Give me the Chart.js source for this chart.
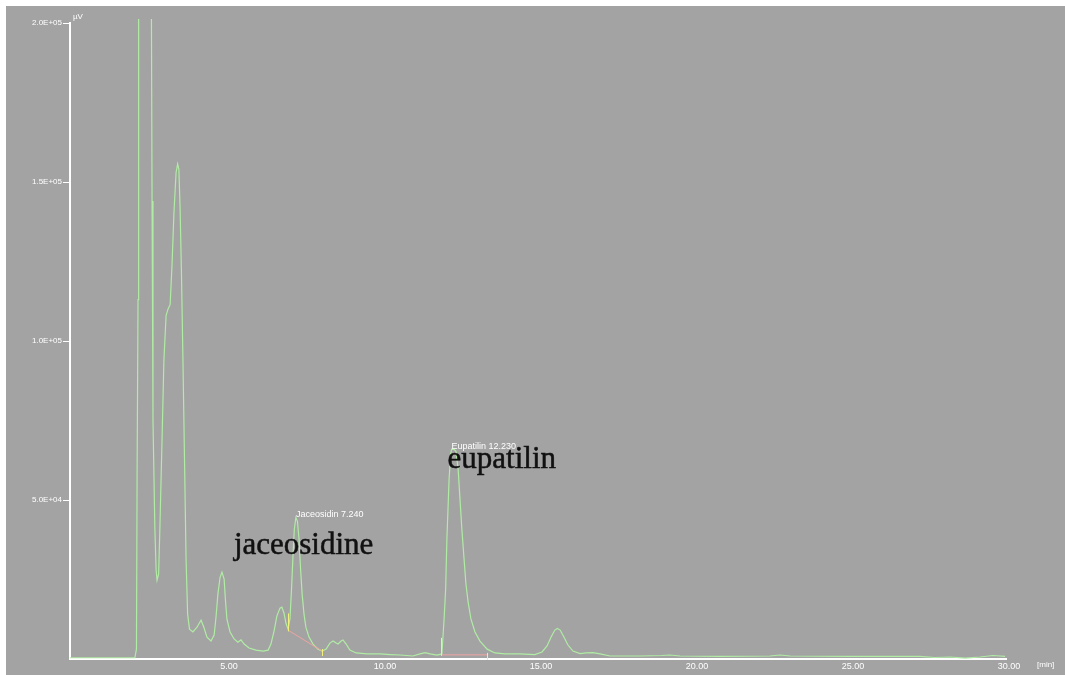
<!DOCTYPE html>
<html>
<head>
<meta charset="utf-8">
<title>HPLC chromatogram</title>
<script src="https://cdn.jsdelivr.net/npm/chart.js@4.4.1/dist/chart.umd.min.js"></script>
<style>
  html, body { margin: 0; padding: 0; background: #ffffff; }
  #wrap { position: relative; width: 1065px; height: 675px; }
</style>
</head>
<body>
<div id="wrap"><canvas id="chrom" width="1065" height="675"></canvas></div>
<script>
// Retention time (min) and detector signal (uV) of the chromatogram trace
const retentionTime = [
  0.00, 0.96, 2.08, 2.13, 2.15, 2.18, 2.20, 2.40, 2.60, 2.63,
  2.66, 2.72, 2.76, 2.79, 2.84, 2.88, 2.95, 3.01, 3.08, 3.14,
  3.21, 3.27, 3.33, 3.40, 3.45, 3.49, 3.53, 3.57, 3.62, 3.67,
  3.72, 3.77, 3.83, 3.94, 4.07, 4.20, 4.29, 4.39, 4.52, 4.62,
  4.68, 4.74, 4.81, 4.87, 4.94, 4.98, 5.03, 5.13, 5.26, 5.38,
  5.48, 5.58, 5.74, 5.96, 6.19, 6.35, 6.44, 6.54, 6.63, 6.73,
  6.79, 6.86, 6.92, 6.99, 7.05, 7.10, 7.15, 7.19, 7.24, 7.29,
  7.34, 7.39, 7.44, 7.50, 7.56, 7.66, 7.79, 7.95, 8.08, 8.21,
  8.33, 8.43, 8.53, 8.59, 8.69, 8.75, 8.85, 8.97, 9.17, 9.52,
  9.94, 10.26, 10.58, 10.99, 11.22, 11.38, 11.54, 11.76, 11.92, 11.99,
  12.04, 12.08, 12.15, 12.20, 12.23, 12.31, 12.37, 12.44, 12.50, 12.56,
  12.63, 12.69, 12.76, 12.85, 12.98, 13.14, 13.37, 13.62, 13.94, 14.42,
  14.90, 15.13, 15.29, 15.42, 15.54, 15.62, 15.71, 15.83, 15.96, 16.12,
  16.35, 16.54, 16.76, 16.99, 17.31, 18.27, 18.97, 19.23, 19.55, 20.83,
  22.44, 22.76, 23.08, 25.00, 27.24, 27.72, 28.21, 28.69, 29.17, 29.58,
  29.81, 29.97
];
const signal = [
  400, 400, 450, 3100, 56500, 113000, 230000, 420000, 230000, 144000,
  75000, 41000, 28000, 24800, 26700, 40800, 69000, 94000, 108000, 110000,
  111500, 124000, 140000, 153000, 155700, 154000, 141000, 122500, 94000, 63000,
  31400, 14100, 9400, 8500, 10000, 12200, 10000, 6900, 5650, 7500,
  13200, 20400, 25700, 27300, 25100, 18800, 12500, 8500, 6300, 5300,
  6000, 4700, 3450, 2800, 2500, 2800, 4700, 8800, 13500, 16000,
  16300, 14400, 11300, 9400, 12600, 22000, 33000, 40800, 44500, 43300,
  37700, 28300, 20400, 14100, 10000, 6900, 4700, 3100, 2500, 3100,
  5000, 5650, 5000, 4700, 5650, 6000, 4700, 2800, 1900, 1600,
  1600, 1400, 1250, 950, 1600, 2000, 1600, 1250, 1600, 12600,
  22000, 37700, 56500, 64400, 66000, 65900, 65300, 59700, 50200, 40800,
  31400, 23600, 17900, 12600, 8500, 5650, 3100, 1900, 1600, 1600,
  1400, 2200, 4100, 6900, 9100, 9600, 9100, 6900, 4400, 2500,
  1700, 1900, 2000, 1600, 950, 950, 1100, 1250, 950, 800,
  950, 1250, 950, 800, 800, 470, 630, 300, 630, 1100,
  950, 800
];

// Identified peaks: name, retention time, height
const peakNames = ['Jaceosidin', 'Eupatilin'];
const peakTimes = [7.240, 12.230];
const peakHeights = [44500, 66000];
const compoundLabels = ['jaceosidine', 'eupatilin'];

// Integration baselines (start / end time and signal) for each identified peak
const baseStartTime = [7.00, 11.90];
const baseStartSignal = [9000, 1300];
const baseEndTime = [8.08, 13.37];
const baseEndSignal = [2500, 1300];

// Axis ticks
const timeTicks = [0, 5, 10, 15, 20, 25, 30];
const signalTicks = [0, 50000, 100000, 150000, 200000];

const BG = '#a3a3a3';
const TRACE = '#b0eca4';
const BASELINE = '#f0a3a3';
const MARKER = '#f2f27a';

function sci(v) {
  const parts = v.toExponential(1).split('e');
  const e = parseInt(parts[1], 10);
  return parts[0] + 'E' + (e < 0 ? '-' : '+') + String(Math.abs(e)).padStart(2, '0');
}

const tracePoints = retentionTime.map((t, i) => ({ x: t, y: signal[i] }));
const baselineSets = peakNames.map((n, i) => ({
  label: n + ' baseline',
  data: [{ x: baseStartTime[i], y: baseStartSignal[i] }, { x: baseEndTime[i], y: baseEndSignal[i] }],
  showLine: true,
  borderColor: BASELINE,
  borderWidth: 1,
  pointRadius: 0,
  order: 1
}));

const decorations = {
  id: 'decorations',
  beforeDraw(chart) {
    const c = chart.ctx;
    c.save();
    c.fillStyle = '#ffffff';
    c.fillRect(0, 0, chart.width, chart.height);
    c.fillStyle = BG;
    c.fillRect(6, 6, chart.width - 6, chart.height - 6);
    c.restore();
  },
  afterDatasetsDraw(chart) {
    const c = chart.ctx;
    const xs = chart.scales.x, ys = chart.scales.y;
    c.save();
    // integration start / end markers
    c.strokeStyle = MARKER;
    c.lineWidth = 1;
    for (let i = 0; i < peakNames.length; i++) {
      const sx = Math.round(xs.getPixelForValue(baseStartTime[i])) + 0.5;
      const sy = ys.getPixelForValue(baseStartSignal[i]);
      c.beginPath(); c.moveTo(sx, sy + 1); c.lineTo(sx, sy - 17); c.stroke();
      const ex = Math.round(xs.getPixelForValue(baseEndTime[i])) + 0.5;
      const ey = ys.getPixelForValue(baseEndSignal[i]);
      c.beginPath(); c.moveTo(ex, ey - 2); c.lineTo(ex, ey + 5); c.stroke();
    }
    // peak annotations
    for (let i = 0; i < peakNames.length; i++) {
      const px = xs.getPixelForValue(peakTimes[i]);
      const py = ys.getPixelForValue(peakHeights[i]);
      c.fillStyle = '#ffffff';
      c.font = '9px "Liberation Sans", Arial, sans-serif';
      c.textAlign = 'left';
      c.textBaseline = 'alphabetic';
      c.fillText(peakNames[i] + ' ' + peakTimes[i].toFixed(3), px, py);
    }
    c.fillStyle = '#111111';
    c.strokeStyle = '#111111';
    c.lineWidth = 0.5;
    c.font = '31px "Liberation Serif", "Times New Roman", serif';
    const jx = xs.getPixelForValue(peakTimes[0]), jy = ys.getPixelForValue(peakHeights[0]);
    c.fillText(compoundLabels[0], jx - 62, jy + 37);
    c.strokeText(compoundLabels[0], jx - 62, jy + 37);
    const ex2 = xs.getPixelForValue(peakTimes[1]), ey2 = ys.getPixelForValue(peakHeights[1]);
    c.fillText(compoundLabels[1], ex2 - 4, ey2 + 19);
    c.strokeText(compoundLabels[1], ex2 - 4, ey2 + 19);
    // axis units
    c.fillStyle = '#ffffff';
    c.font = '8px "Liberation Sans", Arial, sans-serif';
    c.fillText('\u00b5V', xs.left + 3, ys.top - 4);
    c.fillText('[min]', 1037, 667);
    c.restore();
  }
};

new Chart(document.getElementById('chrom'), {
  type: 'scatter',
  data: {
    datasets: [
      {
        label: 'Signal',
        data: tracePoints,
        showLine: true,
        borderColor: TRACE,
        borderWidth: 1.2,
        pointRadius: 0,
        tension: 0,
        clip: { left: 0, top: 4, right: 0, bottom: 0 },
        order: 2
      },
      ...baselineSets
    ]
  },
  options: {
    responsive: false,
    animation: false,
    devicePixelRatio: 1,
    layout: { padding: { top: 23, right: 59, left: 0, bottom: 0 } },
    plugins: { legend: { display: false }, tooltip: { enabled: false } },
    scales: {
      x: {
        type: 'linear',
        position: 'bottom',
        min: 0,
        max: 30,
        afterBuildTicks: s => { s.ticks = timeTicks.map(v => ({ value: v })); },
        afterFit: s => { s.height = 16; },
        ticks: {
          color: '#ffffff',
          font: { size: 9, family: '"Liberation Sans", Arial, sans-serif' },
          padding: -6,
          labelOffset: 3,
          maxRotation: 0,
          autoSkip: false,
          callback: v => (v === 0 ? '' : v.toFixed(2))
        },
        grid: { display: false },
        border: { display: true, color: '#ffffff', width: 2 }
      },
      y: {
        type: 'linear',
        position: 'left',
        min: 0,
        max: 200000,
        afterBuildTicks: s => { s.ticks = signalTicks.map(v => ({ value: v })); },
        afterFit: s => { s.width = 70; },
        ticks: {
          color: '#ffffff',
          font: { size: 8, family: '"Liberation Sans", Arial, sans-serif' },
          padding: 1,
          autoSkip: false,
          callback: v => (v === 0 ? '' : sci(v))
        },
        grid: {
          display: true,
          drawOnChartArea: false,
          drawTicks: true,
          tickLength: 7,
          lineWidth: 1,
          color: ctx => (ctx.tick && ctx.tick.value === 0 ? 'rgba(0,0,0,0)' : '#ffffff')
        },
        border: { display: true, color: '#ffffff', width: 2 }
      }
    }
  },
  plugins: [decorations]
});
</script>
</body>
</html>
